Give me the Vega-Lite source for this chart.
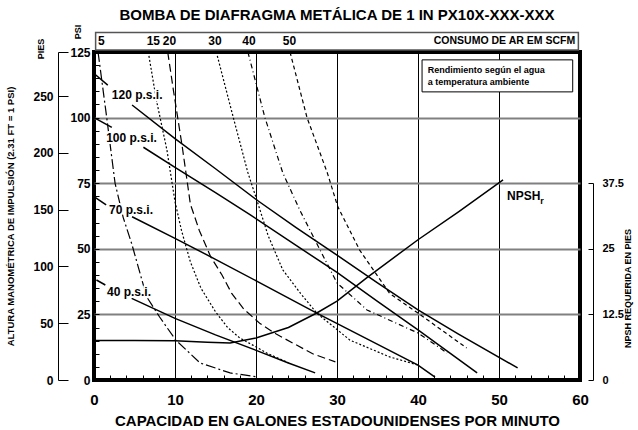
{
  "$schema": "https://vega.github.io/schema/vega-lite/v6.json",
  "width": 486,
  "height": 328,
  "autosize": {"type": "none"},
  "padding": {"left": 94, "top": 52, "right": 58, "bottom": 50},
  "background": "white",
  "config": {
    "view": {"stroke": "black", "strokeWidth": 4},
    "font": "Liberation Sans",
    "text": {"font": "Liberation Sans", "fontWeight": "bold", "color": "black"}
  },
  "datasets": {
    "perf": [
      {"s": "120a", "gpm": 0, "psi": 116.8}, {"s": "120a", "gpm": 1.7, "psi": 112.4},
      {"s": "120b", "gpm": 4.7, "psi": 104.8}, {"s": "120b", "gpm": 10, "psi": 92}, {"s": "120b", "gpm": 15, "psi": 80.5}, {"s": "120b", "gpm": 20.1, "psi": 68.6}, {"s": "120b", "gpm": 25, "psi": 58}, {"s": "120b", "gpm": 30, "psi": 47.6}, {"s": "120b", "gpm": 35, "psi": 37}, {"s": "120b", "gpm": 40, "psi": 26.7}, {"s": "120b", "gpm": 45, "psi": 17.5}, {"s": "120b", "gpm": 52.3, "psi": 4.6},
      {"s": "100a", "gpm": 0, "psi": 100}, {"s": "100a", "gpm": 2.2, "psi": 96.3},
      {"s": "100b", "gpm": 6.1, "psi": 88.7}, {"s": "100b", "gpm": 10, "psi": 81}, {"s": "100b", "gpm": 15, "psi": 71.4}, {"s": "100b", "gpm": 19.3, "psi": 62.9}, {"s": "100b", "gpm": 25, "psi": 51.2}, {"s": "100b", "gpm": 30, "psi": 41}, {"s": "100b", "gpm": 35, "psi": 30}, {"s": "100b", "gpm": 40, "psi": 19.1}, {"s": "100b", "gpm": 47.3, "psi": 2.7},
      {"s": "70a", "gpm": 0, "psi": 69.9}, {"s": "70a", "gpm": 1.5, "psi": 66.7},
      {"s": "70b", "gpm": 4.7, "psi": 62.2}, {"s": "70b", "gpm": 10, "psi": 54}, {"s": "70b", "gpm": 15, "psi": 46}, {"s": "70b", "gpm": 20.2, "psi": 37.5}, {"s": "70b", "gpm": 27.5, "psi": 25.5}, {"s": "70b", "gpm": 34, "psi": 15.2}, {"s": "70b", "gpm": 40, "psi": 5.7}, {"s": "70b", "gpm": 42.1, "psi": 1.1},
      {"s": "40a", "gpm": 0.3, "psi": 38.1}, {"s": "40a", "gpm": 1.4, "psi": 36.2},
      {"s": "40b", "gpm": 4.65, "psi": 31.1}, {"s": "40b", "gpm": 10, "psi": 23.5}, {"s": "40b", "gpm": 15, "psi": 17.2}, {"s": "40b", "gpm": 20.1, "psi": 11.2}, {"s": "40b", "gpm": 24, "psi": 6.5}, {"s": "40b", "gpm": 27.3, "psi": 2.7}
    ],
    "air": [
      {"scfm": "5", "gpm": 0.5, "psi": 125}, {"scfm": "5", "gpm": 1.57, "psi": 100}, {"scfm": "5", "gpm": 2.6, "psi": 75}, {"scfm": "5", "gpm": 3.6, "psi": 62}, {"scfm": "5", "gpm": 4.65, "psi": 52}, {"scfm": "5", "gpm": 6.5, "psi": 31.7}, {"scfm": "5", "gpm": 8.1, "psi": 24}, {"scfm": "5", "gpm": 10.1, "psi": 15.2}, {"scfm": "5", "gpm": 13.1, "psi": 6.5}, {"scfm": "5", "gpm": 16.8, "psi": 2.7}, {"scfm": "5", "gpm": 20.1, "psi": 1.2},
      {"scfm": "15", "gpm": 6.7, "psi": 125}, {"scfm": "15", "gpm": 7.7, "psi": 106.7}, {"scfm": "15", "gpm": 9, "psi": 87.7}, {"scfm": "15", "gpm": 10, "psi": 68}, {"scfm": "15", "gpm": 10.8, "psi": 57}, {"scfm": "15", "gpm": 11.9, "psi": 45}, {"scfm": "15", "gpm": 13.2, "psi": 35}, {"scfm": "15", "gpm": 15, "psi": 26}, {"scfm": "15", "gpm": 16.5, "psi": 20}, {"scfm": "15", "gpm": 18, "psi": 16}, {"scfm": "15", "gpm": 19.6, "psi": 13.3}, {"scfm": "15", "gpm": 21.5, "psi": 10}, {"scfm": "15", "gpm": 24, "psi": 6.6},
      {"scfm": "20", "gpm": 9.1, "psi": 125}, {"scfm": "20", "gpm": 9.8, "psi": 110.5}, {"scfm": "20", "gpm": 10.9, "psi": 88.8}, {"scfm": "20", "gpm": 11.9, "psi": 67}, {"scfm": "20", "gpm": 13, "psi": 57}, {"scfm": "20", "gpm": 14.4, "psi": 47}, {"scfm": "20", "gpm": 15.8, "psi": 40}, {"scfm": "20", "gpm": 17, "psi": 33}, {"scfm": "20", "gpm": 18.5, "psi": 27}, {"scfm": "20", "gpm": 20.5, "psi": 21.5}, {"scfm": "20", "gpm": 22.5, "psi": 17.5}, {"scfm": "20", "gpm": 24.6, "psi": 14}, {"scfm": "20", "gpm": 27, "psi": 10}, {"scfm": "20", "gpm": 29.8, "psi": 6.9},
      {"scfm": "30", "gpm": 15.1, "psi": 125}, {"scfm": "30", "gpm": 17.2, "psi": 100}, {"scfm": "30", "gpm": 19, "psi": 79}, {"scfm": "30", "gpm": 20.1, "psi": 68.6}, {"scfm": "30", "gpm": 21.5, "psi": 55}, {"scfm": "30", "gpm": 23.3, "psi": 42}, {"scfm": "30", "gpm": 25.5, "psi": 33}, {"scfm": "30", "gpm": 27.5, "psi": 25.5}, {"scfm": "30", "gpm": 31.6, "psi": 15.2}, {"scfm": "30", "gpm": 36.5, "psi": 8.8}, {"scfm": "30", "gpm": 40, "psi": 5.7},
      {"scfm": "40", "gpm": 19, "psi": 125}, {"scfm": "40", "gpm": 21.1, "psi": 100}, {"scfm": "40", "gpm": 23.3, "psi": 79}, {"scfm": "40", "gpm": 25.4, "psi": 64.8}, {"scfm": "40", "gpm": 27.5, "psi": 52}, {"scfm": "40", "gpm": 30, "psi": 37}, {"scfm": "40", "gpm": 33.7, "psi": 26.7}, {"scfm": "40", "gpm": 40, "psi": 17.9}, {"scfm": "40", "gpm": 43.6, "psi": 10.3},
      {"scfm": "50", "gpm": 24.2, "psi": 125}, {"scfm": "50", "gpm": 26.3, "psi": 100}, {"scfm": "50", "gpm": 28.8, "psi": 79}, {"scfm": "50", "gpm": 30.1, "psi": 66}, {"scfm": "50", "gpm": 32.8, "psi": 49.5}, {"scfm": "50", "gpm": 36.5, "psi": 33}, {"scfm": "50", "gpm": 40, "psi": 25.5}, {"scfm": "50", "gpm": 46, "psi": 12.2}
    ],
    "npsh": [
      {"gpm": 0, "ft": 7.5}, {"gpm": 5, "ft": 7.5}, {"gpm": 10, "ft": 7.45}, {"gpm": 14, "ft": 7.2}, {"gpm": 16.8, "ft": 7.05}, {"gpm": 20, "ft": 8}, {"gpm": 24, "ft": 10}, {"gpm": 27.5, "ft": 12.75}, {"gpm": 30, "ft": 15}, {"gpm": 33.7, "ft": 19.5}, {"gpm": 40, "ft": 26.7}, {"gpm": 45, "ft": 32}, {"gpm": 50.5, "ft": 38.1}
    ],
    "plabels": [
      {"t": "120 p.s.i.", "gpm": 2.2, "psi": 108.6},
      {"t": "100 p.s.i.", "gpm": 1.5, "psi": 92.2},
      {"t": "70 p.s.i.", "gpm": 1.85, "psi": 64.8},
      {"t": "40 p.s.i.", "gpm": 1.6, "psi": 33.5},
      {"t": "NPSH", "gpm": 51, "psi": 70.1}
    ],
    "scfmlabels": [
      {"t": "5", "gpm": 0.5, "psi": 129.2},
      {"t": "15", "gpm": 6.5, "psi": 129.2},
      {"t": "20", "gpm": 8.5, "psi": 129.2},
      {"t": "30", "gpm": 14.1, "psi": 129.2},
      {"t": "40", "gpm": 18.3, "psi": 129.2},
      {"t": "50", "gpm": 23.3, "psi": 129.2}
    ]
  },
  "layer": [
    {
      "layer": [
        {
          "data": {"name": "perf"},
          "mark": {"type": "line", "color": "black", "strokeWidth": 1.5},
          "encoding": {
            "x": {
              "field": "gpm", "type": "quantitative",
              "scale": {"domain": [0, 60], "nice": false},
              "axis": {
                "values": [0, 2, 4, 6, 8, 10, 12, 14, 16, 18, 20, 22, 24, 26, 28, 30, 32, 34, 36, 38, 40, 42, 44, 46, 48, 50, 52, 54, 56, 58, 60],
                "tickCount": 100,
                "format": "d",
                "labelExpr": "datum.value % 10 === 0 ? datum.label : ''",
                "tickSize": -5, "tickColor": "black", "tickWidth": 1,
                "domain": false,
                "grid": true, "gridColor": "black", "gridWidth": 1,
                "gridOpacity": {"condition": {"test": "datum.value % 10 === 0 && datum.value > 0 && datum.value < 60", "value": 1}, "value": 0},
                "labelFont": "Liberation Sans", "labelFontSize": 15, "labelFontWeight": "bold", "labelColor": "black",
                "labelPadding": 17, "labelFlush": false, "labelOverlap": false,
                "title": "CAPACIDAD EN GALONES ESTADOUNIDENSES POR MINUTO",
                "titleFont": "Liberation Sans", "titleFontSize": 15, "titleFontWeight": "bold", "titleColor": "black",
                "titlePadding": 6
              }
            },
            "y": {
              "field": "psi", "type": "quantitative",
              "scale": {"domain": [0, 125], "nice": false},
              "axis": {
                "values": [0, 5, 10, 15, 20, 25, 30, 35, 40, 45, 50, 55, 60, 65, 70, 75, 80, 85, 90, 95, 100, 105, 110, 115, 120, 125],
                "tickCount": 100,
                "format": "d",
                "labelExpr": "datum.value % 25 === 0 ? datum.label : ''",
                "tickSize": -5, "tickColor": "black", "tickWidth": 1,
                "domain": false,
                "grid": true, "gridColor": "#808080", "gridWidth": 2,
                "gridOpacity": {"condition": {"test": "datum.value % 25 === 0 && datum.value > 0 && datum.value < 125", "value": 1}, "value": 0},
                "labelFont": "Liberation Sans", "labelFontSize": 12, "labelFontWeight": "bold", "labelColor": "black",
                "labelPadding": 9, "labelFlush": false, "labelOverlap": false,
                "title": null
              }
            },
            "detail": {"field": "s"}
          }
        },
        {
          "data": {"name": "air"},
          "mark": {"type": "line", "color": "black", "strokeWidth": 1.2},
          "encoding": {
            "x": {"field": "gpm", "type": "quantitative"},
            "y": {"field": "psi", "type": "quantitative"},
            "detail": {"field": "scfm"},
            "strokeDash": {
              "field": "scfm", "type": "nominal", "legend": null,
              "scale": {"domain": ["5", "15", "20", "30", "40", "50"], "range": [[10, 3, 2, 3], [2, 2], [8, 4], [2, 2], [5, 3, 1, 3], [4, 3]]}
            }
          }
        },
        {
          "data": {"name": "plabels"},
          "mark": {"type": "text", "align": "left", "baseline": "middle", "fontSize": 12, "stroke": "white", "strokeWidth": 4, "strokeJoin": "round"},
          "encoding": {
            "x": {"field": "gpm", "type": "quantitative"},
            "y": {"field": "psi", "type": "quantitative"},
            "text": {"field": "t"}
          }
        },
        {
          "data": {"name": "plabels"},
          "mark": {"type": "text", "align": "left", "baseline": "middle", "fontSize": 12},
          "encoding": {
            "x": {"field": "gpm", "type": "quantitative"},
            "y": {"field": "psi", "type": "quantitative"},
            "text": {"field": "t"}
          }
        },
        {
          "data": {"values": [{"t": "r", "gpm": 55.1, "psi": 68.2}]},
          "mark": {"type": "text", "align": "left", "baseline": "middle", "fontSize": 9},
          "encoding": {
            "x": {"field": "gpm", "type": "quantitative"},
            "y": {"field": "psi", "type": "quantitative"},
            "text": {"field": "t"}
          }
        },
        {
          "data": {"values": [{"x1": 40.5, "x2": 59.1, "y1": 109.8, "y2": 122}]},
          "mark": {"type": "rect", "fill": "white", "stroke": "black", "strokeWidth": 1},
          "encoding": {
            "x": {"field": "x1", "type": "quantitative"},
            "x2": {"field": "x2"},
            "y": {"field": "y1", "type": "quantitative"},
            "y2": {"field": "y2"}
          }
        },
        {
          "data": {"values": [{"t": "Rendimiento según el agua", "gpm": 41.2, "psi": 118.1}, {"t": "a temperatura ambiente", "gpm": 41.2, "psi": 113.6}]},
          "mark": {"type": "text", "align": "left", "baseline": "middle", "fontSize": 9},
          "encoding": {
            "x": {"field": "gpm", "type": "quantitative"},
            "y": {"field": "psi", "type": "quantitative"},
            "text": {"field": "t"}
          }
        },
        {
          "data": {"values": [{"x1": 0.2, "x2": 59.8, "y1": 125.8, "y2": 132.4}]},
          "mark": {"type": "rect", "fill": null, "fillOpacity": 0, "stroke": "#555555", "strokeWidth": 1.5},
          "encoding": {
            "x": {"field": "x1", "type": "quantitative"},
            "x2": {"field": "x2"},
            "y": {"field": "y1", "type": "quantitative"},
            "y2": {"field": "y2"}
          }
        },
        {
          "data": {"name": "scfmlabels"},
          "mark": {"type": "text", "align": "left", "baseline": "middle", "fontSize": 12},
          "encoding": {
            "x": {"field": "gpm", "type": "quantitative"},
            "y": {"field": "psi", "type": "quantitative"},
            "text": {"field": "t"}
          }
        },
        {
          "data": {"values": [{"t": "CONSUMO DE AR EM SCFM", "gpm": 59.4, "psi": 129.2}]},
          "mark": {"type": "text", "align": "right", "baseline": "middle", "fontSize": 10.5},
          "encoding": {
            "x": {"field": "gpm", "type": "quantitative"},
            "y": {"field": "psi", "type": "quantitative"},
            "text": {"field": "t"}
          }
        },
        {
          "data": {"values": [{"t": "BOMBA DE DIAFRAGMA METÁLICA DE 1 IN PX10X-XXX-XXX", "gpm": 30, "psi": 139.1}]},
          "mark": {"type": "text", "align": "center", "baseline": "middle", "fontSize": 15},
          "encoding": {
            "x": {"field": "gpm", "type": "quantitative"},
            "y": {"field": "psi", "type": "quantitative"},
            "text": {"field": "t"}
          }
        },
        {
          "data": {"values": [{"t": "PSI", "gpm": -1.98, "psi": 132.6}, {"t": "PIES", "gpm": -6.54, "psi": 126.1}]},
          "mark": {"type": "text", "align": "center", "baseline": "middle", "fontSize": 9, "angle": 270},
          "encoding": {
            "x": {"field": "gpm", "type": "quantitative"},
            "y": {"field": "psi", "type": "quantitative"},
            "text": {"field": "t"}
          }
        }
      ]
    },
    {
      "data": {"values": [{"ft": 0}, {"ft": 288.75}]},
      "mark": {"type": "point", "opacity": 0},
      "encoding": {
        "y": {
          "field": "ft", "type": "quantitative",
          "scale": {"domain": [0, 288.75], "nice": false},
          "axis": {
            "orient": "left", "offset": 36,
            "values": [0, 50, 100, 150, 200, 250, 288.75],
            "tickCount": 100,
            "labelExpr": "datum.value > 260 ? '' : datum.label",
            "tickSize": -10, "tickColor": "black", "tickWidth": 1,
            "domain": true, "domainColor": "black", "domainWidth": 1,
            "grid": false,
            "labelFont": "Liberation Sans", "labelFontSize": 12, "labelFontWeight": "bold", "labelColor": "black",
            "labelPadding": 15, "labelFlush": false, "labelOverlap": false,
            "title": "ALTURA MANOMÉTRICA DE IMPULSIÓN (2.31 FT = 1 PSI)",
            "titleFont": "Liberation Sans", "titleFontSize": 9.5, "titleFontWeight": "bold", "titleColor": "black",
            "titlePadding": 17
          }
        }
      }
    },
    {
      "data": {"name": "npsh"},
      "mark": {"type": "line", "color": "black", "strokeWidth": 1.5},
      "encoding": {
        "x": {"field": "gpm", "type": "quantitative"},
        "y": {
          "field": "ft", "type": "quantitative",
          "scale": {"domain": [0, 37.5], "range": [328, 131], "nice": false},
          "axis": {
            "orient": "right", "offset": 13,
            "values": [0, 12.5, 25, 37.5],
            "tickCount": 100,
            "format": "~g",
            "tickSize": -5, "tickColor": "black", "tickWidth": 1,
            "domain": true, "domainColor": "black", "domainWidth": 1,
            "grid": false,
            "labelFont": "Liberation Sans", "labelFontSize": 11, "labelFontWeight": "bold", "labelColor": "black",
            "labelPadding": 14, "labelFlush": false, "labelOverlap": false,
            "title": "NPSH REQUERIDA EN PIES", "titleAngle": 270, "titleY": 236,
            "titleFont": "Liberation Sans", "titleFontSize": 9, "titleFontWeight": "bold", "titleColor": "black",
            "titlePadding": 9
          }
        }
      }
    }
  ],
  "resolve": {"scale": {"y": "independent"}}
}
